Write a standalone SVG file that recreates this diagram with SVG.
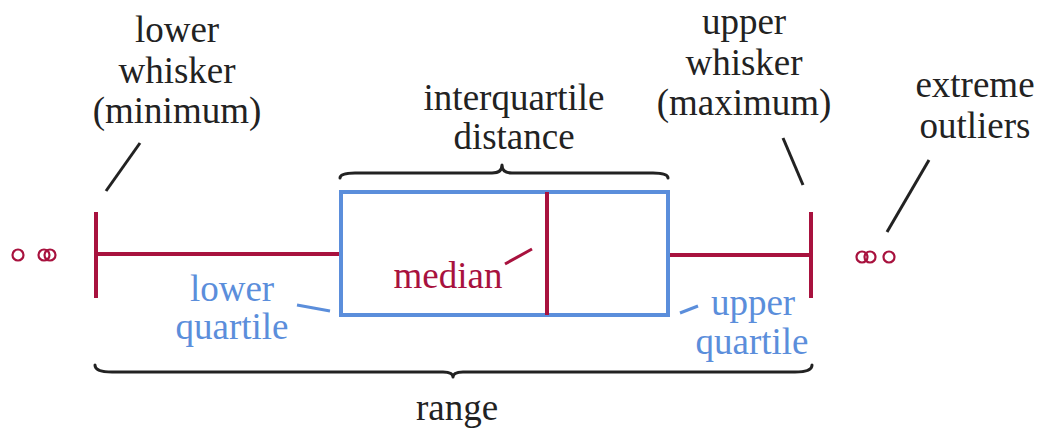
<svg xmlns="http://www.w3.org/2000/svg" width="1041" height="430" viewBox="0 0 1041 430">
  <style>
    .t { font-family: 'Liberation Serif', 'DejaVu Serif', serif; font-size: 37px; text-anchor: middle; }
    .lbl { fill: #222222; }
    .red { fill: #A8123E; }
    .blue { fill: #5B8EDB; }
    .lead { stroke: #222222; stroke-width: 3; fill: none; }
    .brace { stroke: #222222; stroke-width: 3; fill: none; stroke-linecap: round; stroke-linejoin: round; }
    .plot { stroke: #A8123E; stroke-width: 4; fill: none; }
    .box { stroke: #5B8EDB; stroke-width: 4; fill: none; }
    .out { stroke: #A8123E; stroke-width: 2.2; fill: none; }
  </style>

  <!-- box plot body -->
  <g id="whisker-lower">
    <line class="plot" x1="96" y1="212" x2="96" y2="298"/>
    <line class="plot" x1="96" y1="254" x2="341" y2="254"/>
  </g>
  <g id="whisker-upper">
    <line class="plot" x1="811" y1="212" x2="811" y2="298"/>
    <line class="plot" x1="668" y1="255" x2="811" y2="255"/>
  </g>
  <g id="box">
    <rect class="box" x="341" y="192" width="327" height="123"/>
  </g>
  <g id="median">
    <line class="plot" x1="547" y1="192" x2="547" y2="315" stroke-width="5"/>
  </g>
  <g id="outliers-left">
    <circle class="out" cx="18" cy="255" r="5.5"/>
    <circle class="out" cx="44" cy="255" r="5.5"/>
    <circle class="out" cx="50" cy="255" r="5.5"/>
  </g>
  <g id="outliers-right">
    <circle class="out" cx="862" cy="257" r="5.5"/>
    <circle class="out" cx="870" cy="257" r="5.5"/>
    <circle class="out" cx="889" cy="257" r="5.5"/>
  </g>

  <!-- braces -->
  <g id="brace-iqr">
    <path class="brace" d="M340,178 Q340,173 355,173 L492,173 Q502,173 502,165 Q502,173 512,173 L653,173 Q668,173 668,178"/>
  </g>
  <g id="brace-range">
    <path class="brace" d="M95,365 Q95,372 112,372 L443,372 Q453,372 453,377 Q453,372 463,372 L795,372 Q812,372 812,365"/>
  </g>

  <!-- labels -->
  <g id="label-lower-whisker" class="t lbl" font-family="Liberation Serif">
    <text x="177" y="42">lower</text>
    <text x="177" y="83">whisker</text>
    <text x="177" y="123">(minimum)</text>
  </g>
  <g id="label-upper-whisker" class="t lbl" font-family="Liberation Serif">
    <text x="744" y="34">upper</text>
    <text x="744" y="75">whisker</text>
    <text x="744" y="115">(maximum)</text>
  </g>
  <g id="label-outliers" class="t lbl" font-family="Liberation Serif">
    <text x="975" y="97">extreme</text>
    <text x="975" y="138">outliers</text>
  </g>
  <g id="label-iqr" class="t lbl" font-family="Liberation Serif">
    <text x="514" y="110">interquartile</text>
    <text x="514" y="149">distance</text>
  </g>
  <g id="label-median" class="t red" font-family="Liberation Serif">
    <text x="448" y="288">median</text>
  </g>
  <g id="label-lower-quartile" class="t blue" font-family="Liberation Serif">
    <text x="232" y="301">lower</text>
    <text x="232" y="339">quartile</text>
  </g>
  <g id="label-upper-quartile" class="t blue" font-family="Liberation Serif">
    <text x="753" y="315">upper</text>
    <text x="752" y="354">quartile</text>
  </g>
  <g id="label-range" class="t lbl" font-family="Liberation Serif">
    <text x="457" y="420">range</text>
  </g>

  <!-- leader lines -->
  <g id="connectors">
    <line class="lead" x1="140" y1="143" x2="106" y2="191"/>
    <line class="lead" x1="783" y1="138" x2="803" y2="185"/>
    <line class="lead" x1="929" y1="160" x2="887" y2="232"/>
    <line stroke="#A8123E" stroke-width="3" x1="505" y1="264" x2="532" y2="249"/>
    <line stroke="#5B8EDB" stroke-width="3" x1="297" y1="305" x2="330" y2="311"/>
    <line stroke="#5B8EDB" stroke-width="3" x1="680" y1="313" x2="698" y2="306"/>
  </g>
</svg>
